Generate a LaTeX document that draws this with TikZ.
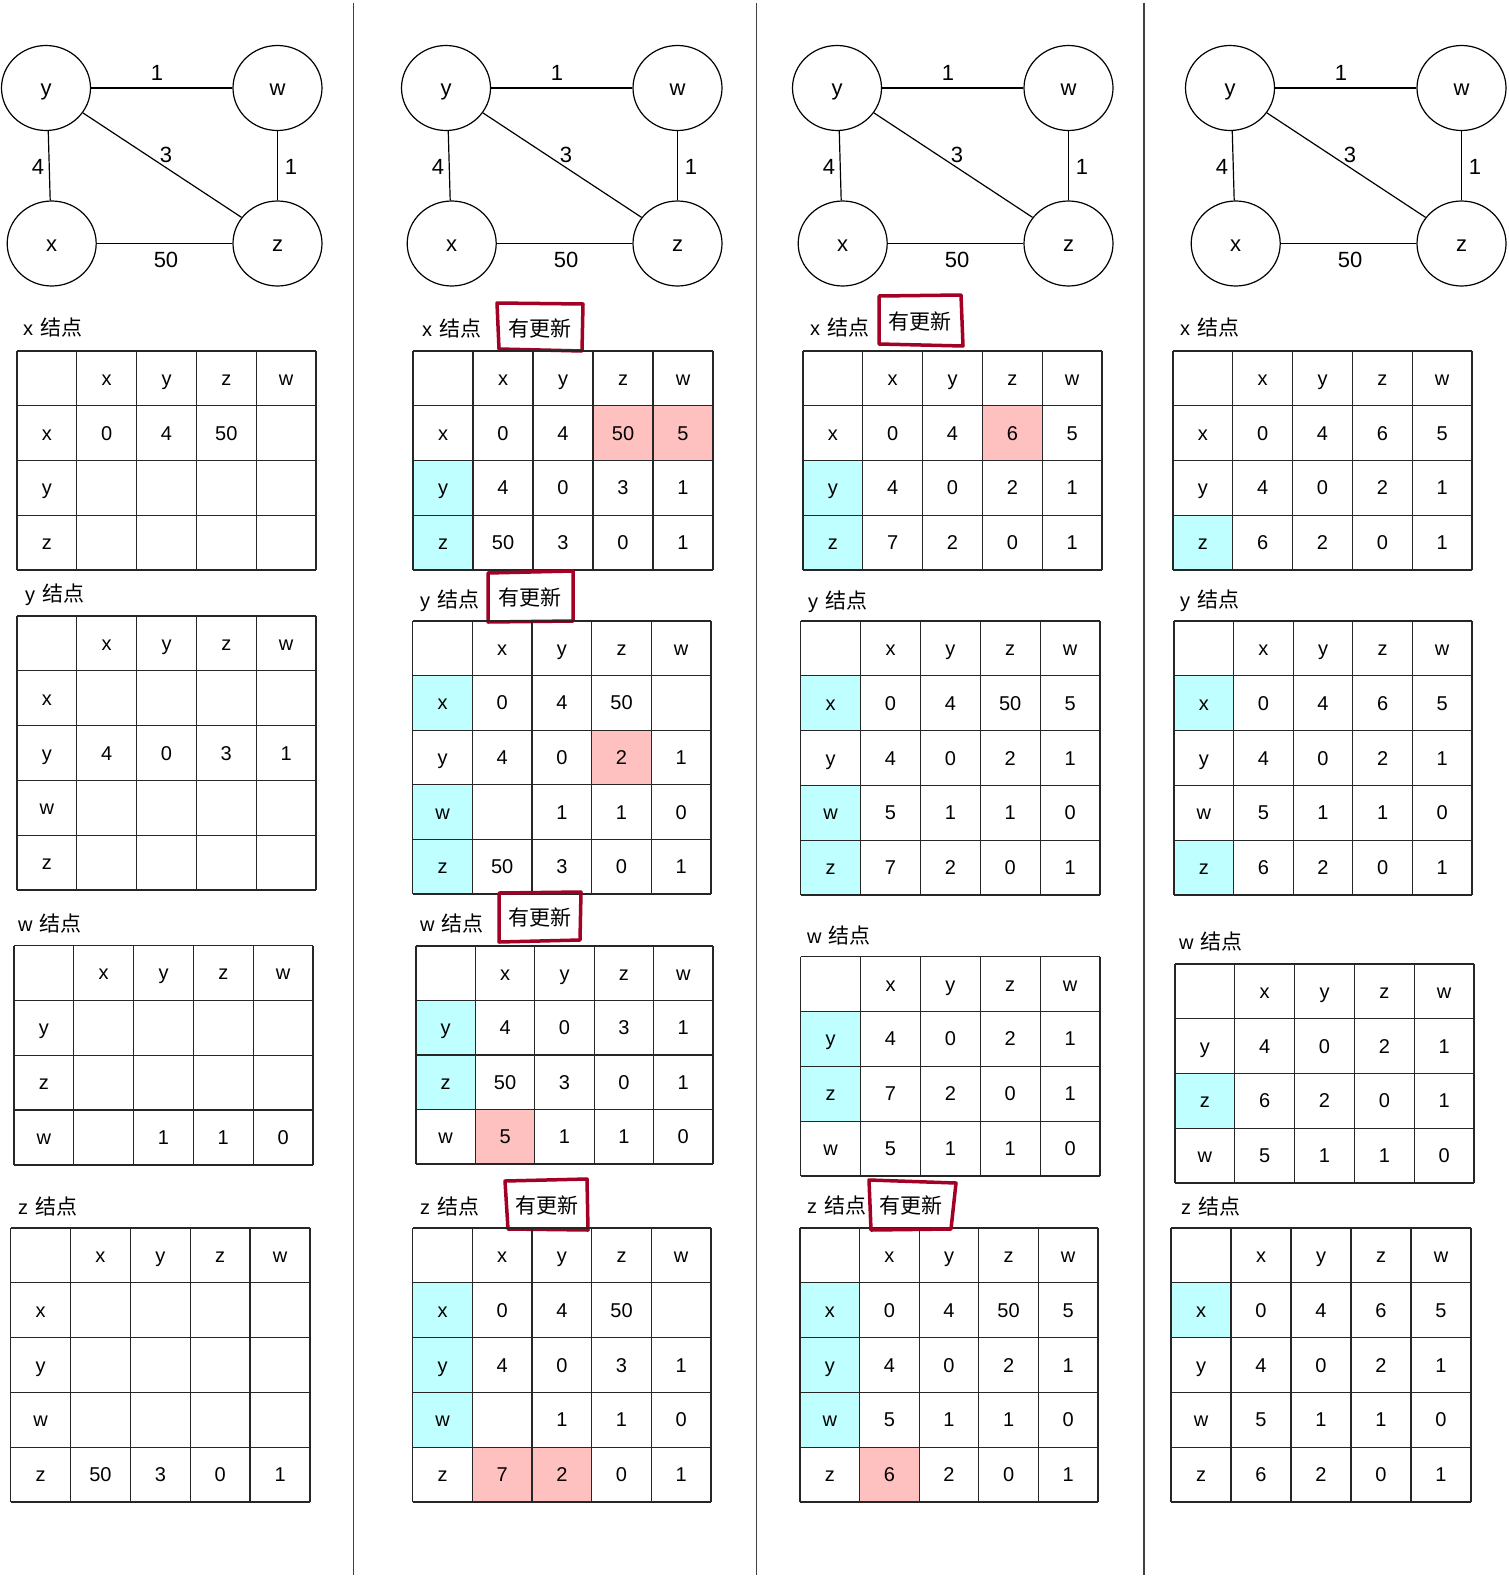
\documentclass[tikz,border=0pt]{standalone}
\usepackage{fontspec}
\setmainfont{Liberation Sans}
\newfontfamily\cjk{Noto Sans CJK SC}
\usetikzlibrary{shapes.geometric}
\definecolor{pk}{RGB}{255,192,192}
\definecolor{cy}{RGB}{192,255,255}
\definecolor{upd}{RGB}{162,0,37}
\colorlet{n}{white}

\newcommand\settable[6]{%
  \def\tbId{#1}\def\tbX{#2}\def\tbY{#3}\def\tbN{#6}%
  \pgfmathsetmacro\tbC{(#4-#2)/5}%
  \pgfmathsetmacro\tbR{(#5-#3)/#6}%
  \foreach \h [count=\j] in {x,y,z,w}{%
    \node[tabtext] (\tbId-0-\j) at ({\tbX+(\j+0.5)*\tbC},{\tbY+0.5*\tbR}) {\h};
  }%
}
\newcommand\trow[4]{%
  \path[fill=#3] ({\tbX},{\tbY+#1*\tbR}) rectangle ++(\tbC,\tbR);
  \node[tabtext] (\tbId-#1-0) at ({\tbX+0.5*\tbC},{\tbY+(#1+0.5)*\tbR}) {#2};
  \foreach \v/\f [count=\j] in {#4}{%
    \path[fill=\f] ({\tbX+\j*\tbC},{\tbY+#1*\tbR}) rectangle ++(\tbC,\tbR);
    \node[tabtext] (\tbId-#1-\j) at ({\tbX+(\j+0.5)*\tbC},{\tbY+(#1+0.5)*\tbR}) {\v};
  }%
}
\newcommand\closetable{%
  \foreach \k in {0,...,5}{\draw[tabline] ({\tbX+\k*\tbC},{\tbY}) -- ++(0,{\tbN*\tbR});}%
  \foreach \k in {0,...,\tbN}{\draw[tabline] ({\tbX},{\tbY+\k*\tbR}) -- ++({5*\tbC},0);}%
}
\newcommand\nlab[1]{#1\hspace{7pt}{\cjk\fontsize{21}{25}\selectfont 结点}}
\newcommand\drawgraph[2]{%
  \begin{scope}[shift={(#1,0)}]
    \node[gnode] (#2y) at (46,88) {y};
    \node[gnode] (#2w) at (277.5,88) {w};
    \node[gnode] (#2x) at (51.7,243.5) {x};
    \node[gnode] (#2z) at (277.5,243.5) {z};
    \draw[gedge] (#2y.east) -- (#2w.west);
    \draw[gedge] (#2y.-87) -- (#2x.92);
    \draw[gedge] (#2w.south) -- (#2z.north);
    \draw[gedge] (#2y.-34) -- (#2z.144);
    \draw[gedge] (#2x.east) -- (#2z.west);
    \node[elab] (#2l1) at (157,73) {1};
    \node[elab] (#2l2) at (38,167) {4};
    \node[elab] (#2l3) at (291,167) {1};
    \node[elab] (#2l4) at (166,155) {3};
    \node[elab] (#2l5) at (166,260) {50};
  \end{scope}%
}

\begin{document}
\begin{tikzpicture}[x=1pt,y=-1pt,
  gnode/.style={ellipse,draw,line width=1.2pt,minimum width=89pt,minimum height=85pt,inner sep=0pt,text height=16.5pt,text depth=1.1pt,font=\fontsize{22}{26}\selectfont},
  gedge/.style={line width=1.2pt},
  elab/.style={inner sep=0pt,text height=16.5pt,text depth=1.1pt,font=\fontsize{22}{26}\selectfont},
  tabtext/.style={inner sep=0pt,text height=15pt,text depth=1pt,font=\fontsize{20}{24}\selectfont},
  tabline/.style={line width=1.3pt,draw=black!85},
  tlabel/.style={anchor=west,inner sep=0pt,text height=15pt,text depth=1pt,font=\fontsize{20}{24}\selectfont},
  boxtext/.style={inner sep=0pt,text height=15.75pt,text depth=1.05pt,font=\cjk\fontsize{21}{25}\selectfont},
  updbox/.style={draw=upd,line width=3.5pt,line join=round,line cap=round},
  seprule/.style={line width=1.5pt,draw=black!75}]
\useasboundingbox[fill=white] (0,0) rectangle (1508,1579);

% separators
\draw[seprule] (353.5,3) -- (353.5,1575);
\draw[seprule] (756.7,3) -- (756.7,1575);
\draw[seprule] (1144,3) -- (1144,1575);

% graphs
\drawgraph{0}{A}
\drawgraph{400}{B}
\drawgraph{791}{C}
\drawgraph{1184}{D}

% ---------- column 1 ----------
\node[tlabel] (A-xl) at (23,328) {\nlab{x}};
\settable{A-x}{17}{351}{316}{570}{4}
\trow{1}{x}{n}{0/n,4/n,50/n,{}/n}
\trow{2}{y}{n}{{}/n,{}/n,{}/n,{}/n}
\trow{3}{z}{n}{{}/n,{}/n,{}/n,{}/n}
\closetable

\node[tlabel] (A-yl) at (25,594.5) {\nlab{y}};
\settable{A-y}{17}{616}{316}{890}{5}
\trow{1}{x}{n}{{}/n,{}/n,{}/n,{}/n}
\trow{2}{y}{n}{4/n,0/n,3/n,1/n}
\trow{3}{w}{n}{{}/n,{}/n,{}/n,{}/n}
\trow{4}{z}{n}{{}/n,{}/n,{}/n,{}/n}
\closetable

\node[tlabel] (A-wl) at (18,924) {\nlab{w}};
\settable{A-w}{14}{945.5}{313}{1165}{4}
\trow{1}{y}{n}{{}/n,{}/n,{}/n,{}/n}
\trow{2}{z}{n}{{}/n,{}/n,{}/n,{}/n}
\trow{3}{w}{n}{{}/n,1/n,1/n,0/n}
\closetable

\node[tlabel] (A-zl) at (18,1207) {\nlab{z}};
\settable{A-z}{10.7}{1228}{310}{1502}{5}
\trow{1}{x}{n}{{}/n,{}/n,{}/n,{}/n}
\trow{2}{y}{n}{{}/n,{}/n,{}/n,{}/n}
\trow{3}{w}{n}{{}/n,{}/n,{}/n,{}/n}
\trow{4}{z}{n}{50/n,3/n,0/n,1/n}
\closetable

% ---------- column 2 ----------
\node[tlabel] (B-xl) at (422,329) {\nlab{x}};
\draw[updbox] (497,303) -- (583,304) -- (582,351) -- (499,349) -- cycle;
\node[boxtext] (B-xu) at (540,329) {有更新};
\settable{B-x}{413}{351}{713}{570}{4}
\trow{1}{x}{n}{0/n,4/n,50/pk,5/pk}
\trow{2}{y}{cy}{4/n,0/n,3/n,1/n}
\trow{3}{z}{cy}{50/n,3/n,0/n,1/n}
\closetable

\node[tlabel] (B-yl) at (420,600) {\nlab{y}};
\draw[updbox] (488,573) -- (573,571) -- (573,621) -- (488,622) -- cycle;
\node[boxtext] (B-yu) at (530,598.5) {有更新};
\settable{B-y}{412.7}{621}{711}{894}{5}
\trow{1}{x}{cy}{0/n,4/n,50/n,{}/n}
\trow{2}{y}{n}{4/n,0/n,2/pk,1/n}
\trow{3}{w}{cy}{{}/n,1/n,1/n,0/n}
\trow{4}{z}{cy}{50/n,3/n,0/n,1/n}
\closetable

\node[tlabel] (B-wl) at (420,924) {\nlab{w}};
\draw[updbox] (499,893) -- (581,892) -- (580,940) -- (499,942) -- cycle;
\node[boxtext] (B-wu) at (540,918) {有更新};
\settable{B-w}{416}{946}{713}{1164}{4}
\trow{1}{y}{cy}{4/n,0/n,3/n,1/n}
\trow{2}{z}{cy}{50/n,3/n,0/n,1/n}
\trow{3}{w}{n}{5/pk,1/n,1/n,0/n}
\closetable

\node[tlabel] (B-zl) at (420,1207) {\nlab{z}};
\draw[updbox] (505,1181) -- (587,1179) -- (588,1230) -- (508,1229) -- cycle;
\node[boxtext] (B-zu) at (547,1206) {有更新};
\settable{B-z}{412.7}{1228}{711}{1502}{5}
\trow{1}{x}{cy}{0/n,4/n,50/n,{}/n}
\trow{2}{y}{cy}{4/n,0/n,3/n,1/n}
\trow{3}{w}{cy}{{}/n,1/n,1/n,0/n}
\trow{4}{z}{n}{7/pk,2/pk,0/n,1/n}
\closetable

% ---------- column 3 ----------
\node[tlabel] (C-xl) at (810,328) {\nlab{x}};
\draw[updbox] (879,296) -- (961,295) -- (963,346) -- (879,344) -- cycle;
\node[boxtext] (C-xu) at (920,322) {有更新};
\settable{C-x}{803}{351}{1102}{570}{4}
\trow{1}{x}{n}{0/n,4/n,6/pk,5/n}
\trow{2}{y}{cy}{4/n,0/n,2/n,1/n}
\trow{3}{z}{cy}{7/n,2/n,0/n,1/n}
\closetable

\node[tlabel] (C-yl) at (808,601.7) {\nlab{y}};
\settable{C-y}{800.7}{621}{1100}{895}{5}
\trow{1}{x}{cy}{0/n,4/n,50/n,5/n}
\trow{2}{y}{n}{4/n,0/n,2/n,1/n}
\trow{3}{w}{cy}{5/n,1/n,1/n,0/n}
\trow{4}{z}{cy}{7/n,2/n,0/n,1/n}
\closetable

\node[tlabel] (C-wl) at (807,936.7) {\nlab{w}};
\settable{C-w}{800.7}{956.7}{1100}{1176}{4}
\trow{1}{y}{cy}{4/n,0/n,2/n,1/n}
\trow{2}{z}{cy}{7/n,2/n,0/n,1/n}
\trow{3}{w}{n}{5/n,1/n,1/n,0/n}
\closetable

\node[tlabel] (C-zl) at (807,1206.7) {\nlab{z}};
\settable{C-z}{800}{1228}{1098}{1502}{5}
\trow{1}{x}{cy}{0/n,4/n,50/n,5/n}
\trow{2}{y}{cy}{4/n,0/n,2/n,1/n}
\trow{3}{w}{cy}{5/n,1/n,1/n,0/n}
\trow{4}{z}{n}{6/pk,2/n,0/n,1/n}
\closetable
\draw[updbox] (869,1180) -- (956,1183) -- (951,1229) -- (871,1230) -- cycle;
\node[boxtext] (C-zu) at (911,1206) {有更新};

% ---------- column 4 ----------
\node[tlabel] (D-xl) at (1180,328) {\nlab{x}};
\settable{D-x}{1173}{351}{1472}{570}{4}
\trow{1}{x}{n}{0/n,4/n,6/n,5/n}
\trow{2}{y}{n}{4/n,0/n,2/n,1/n}
\trow{3}{z}{cy}{6/n,2/n,0/n,1/n}
\closetable

\node[tlabel] (D-yl) at (1180,600) {\nlab{y}};
\settable{D-y}{1174}{621}{1472}{895}{5}
\trow{1}{x}{cy}{0/n,4/n,6/n,5/n}
\trow{2}{y}{n}{4/n,0/n,2/n,1/n}
\trow{3}{w}{n}{5/n,1/n,1/n,0/n}
\trow{4}{z}{cy}{6/n,2/n,0/n,1/n}
\closetable

\node[tlabel] (D-wl) at (1179,942.7) {\nlab{w}};
\settable{D-w}{1175}{964}{1474}{1183}{4}
\trow{1}{y}{n}{4/n,0/n,2/n,1/n}
\trow{2}{z}{cy}{6/n,2/n,0/n,1/n}
\trow{3}{w}{n}{5/n,1/n,1/n,0/n}
\closetable

\node[tlabel] (D-zl) at (1181,1207) {\nlab{z}};
\settable{D-z}{1171}{1228}{1471}{1502}{5}
\trow{1}{x}{cy}{0/n,4/n,6/n,5/n}
\trow{2}{y}{n}{4/n,0/n,2/n,1/n}
\trow{3}{w}{n}{5/n,1/n,1/n,0/n}
\trow{4}{z}{n}{6/n,2/n,0/n,1/n}
\closetable

\end{tikzpicture}
\end{document}
